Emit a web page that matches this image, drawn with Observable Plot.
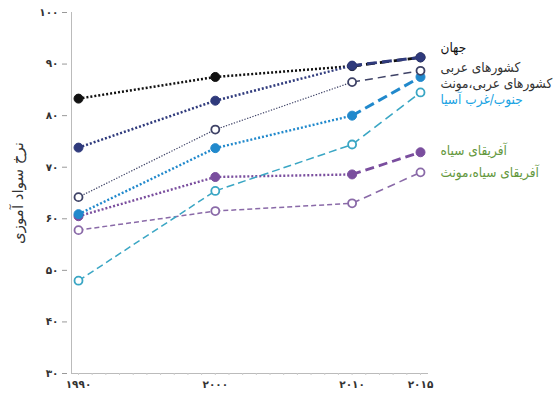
<!DOCTYPE html>
<html><head><meta charset="utf-8">
<script src="https://cdn.jsdelivr.net/npm/d3@7"></script>
<script src="https://cdn.jsdelivr.net/npm/@observablehq/plot@0.6"></script>
<style>body{margin:0;background:#fff}</style>
</head><body><div id="chart"></div>
<script>
// ---- data ----
const years = [1990, 2000, 2010, 2015];
const xTickLabels = ["۱۹۹۰", "۲۰۰۰", "۲۰۱۰", "۲۰۱۵"];
const yTicks = [30, 40, 50, 60, 70, 80, 90, 100];
const yTickLabels = ["۳۰", "۴۰", "۵۰", "۶۰", "۷۰", "۸۰", "۹۰", "۱۰۰"];
const yTitle = "نرخ سواد آموزی";

const world        = [83.3, 87.5, 89.6, 91.3];
const arab         = [73.8, 82.9, 89.7, 91.3];
const arabFemale   = [64.2, 77.3, 86.5, 88.7];
const swAsia       = [60.9, 73.7, 80.0, 87.5];
const swAsiaFemale = [48.0, 65.4, 74.4, 84.5];
const africa       = [60.5, 68.1, 68.6, 72.9];
const africaFemale = [57.8, 61.5, 63.0, 69.0];

const legendLabels = ["جهان", "کشورهای عربی", "کشورهای عربی،مونث", "جنوب/غرب آسیا", "آفریقای سیاه", "آفریقای سیاه،مونث"];

// ---- styles (drawing order bottom -> top) ----
const series = [
  {v: africaFemale, color: "#8a6aa8", filled: false, dash: ["5,3", "5,3", "8,5"], w: [1.5, 1.5, 1.6]},
  {v: africa,       color: "#7a4e9e", filled: true,  dash: ["2,2", "2,2", "9,5"], w: [2.4, 2.4, 2.8]},
  {v: swAsiaFemale, color: "#3aa6c4", filled: false, dash: ["7,4", "8,4", "9,5"], w: [1.5, 1.5, 1.6]},
  {v: swAsia,       color: "#2189cc", filled: true,  dash: ["2,2", "2,2", "10,5"], w: [2.4, 2.4, 3]},
  {v: arabFemale,   color: "#3e4266", filled: false, dash: ["1.3,1.5", "1.3,1.5", "8,5"], w: [1.2, 1.2, 1.5]},
  {v: world,        color: "#111111", filled: true,  dash: ["2,2", "2,2", "9,5"], w: [2.5, 2.5, 2.8]},
  {v: arab,         color: "#2f3a7c", filled: true,  dash: ["2,2", "2,2", "10,5"], w: [2.5, 2.5, 3]}
];

const marks = [];
// axis lines
marks.push(Plot.frame({anchor: "left", stroke: "#bbb", strokeWidth: 1}));
marks.push(Plot.frame({anchor: "bottom", stroke: "#bbb", strokeWidth: 1}));
// y axis
marks.push(Plot.axisY({ticks: yTicks, tickFormat: (d) => yTickLabels[yTicks.indexOf(d)], tickSize: 5, dx: -4, tickPadding: 4,
  stroke: "#999", fill: "#333", fontWeight: "bold", fontSize: 10.5, label: null}));
marks.push(Plot.text([yTitle], {frameAnchor: "left", text: (d) => d, rotate: -90, dx: -53,
  fontSize: 15, fill: "#333", textAnchor: "middle"}));
// x axis: minor yearly ticks
marks.push(Plot.axisX({ticks: d3.range(years[0], years[3] + 1), tickSize: 2, tickFormat: () => "", stroke: "#ccc", label: null}));
marks.push(Plot.axisX({ticks: years, tickSize: 0, tickPadding: 7, tickFormat: (d) => xTickLabels[years.indexOf(d)],
  fill: "#333", fontWeight: "bold", fontSize: 10.5, label: null}));

for (const s of series) {
  for (let i = 0; i < years.length - 1; i++) {
    const seg = [{x1: years[i], y1: s.v[i], x2: years[i + 1], y2: s.v[i + 1]}];
    marks.push(Plot.link(seg, {x1: "x1", y1: "y1", x2: "x2", y2: "y2", stroke: s.color,
      strokeWidth: s.w[i], strokeDasharray: s.dash[i], strokeLinecap: "butt"}));
  }
  const pts = years.map((y, i) => ({x: y, y: s.v[i]}));
  marks.push(Plot.dot(pts, {x: "x", y: "y", r: s.filled ? 4.5 : 4,
    fill: s.filled ? s.color : "white", stroke: s.color, strokeWidth: s.filled ? 1 : 1.8}));
}

// legend labels anchored to each series' 2015 value
const labelAnchors = [world, arab, arabFemale, swAsia, africa, africaFemale];
const labelColors = ["#111", "#333", "#333", "#1aa3e3", "#64983e", "#64983e"];
const labelDy = [-10, 10, 13, 23, -2, 0];
legendLabels.forEach((t, i) => {
  marks.push(Plot.text([{x: years[3], y: labelAnchors[i][3], t}], {x: "x", y: "y", text: "t",
    dx: 20, dy: labelDy[i], textAnchor: "start", fill: labelColors[i], fontSize: 13.5,
    fontFamily: "DejaVu Sans Condensed, DejaVu Sans, sans-serif"}));
});

const chart = Plot.plot({
  width: 560, height: 400,
  marginLeft: 71, marginRight: 133, marginTop: 12, marginBottom: 27,
  style: {fontFamily: "DejaVu Sans, sans-serif", background: "white", color: "#333"},
  x: {domain: [1990, 2015], range: [78, 420]},
  y: {domain: [30, 100], range: [373, 12]},
  marks
});
document.getElementById("chart").appendChild(chart);
</script>
</body></html>
